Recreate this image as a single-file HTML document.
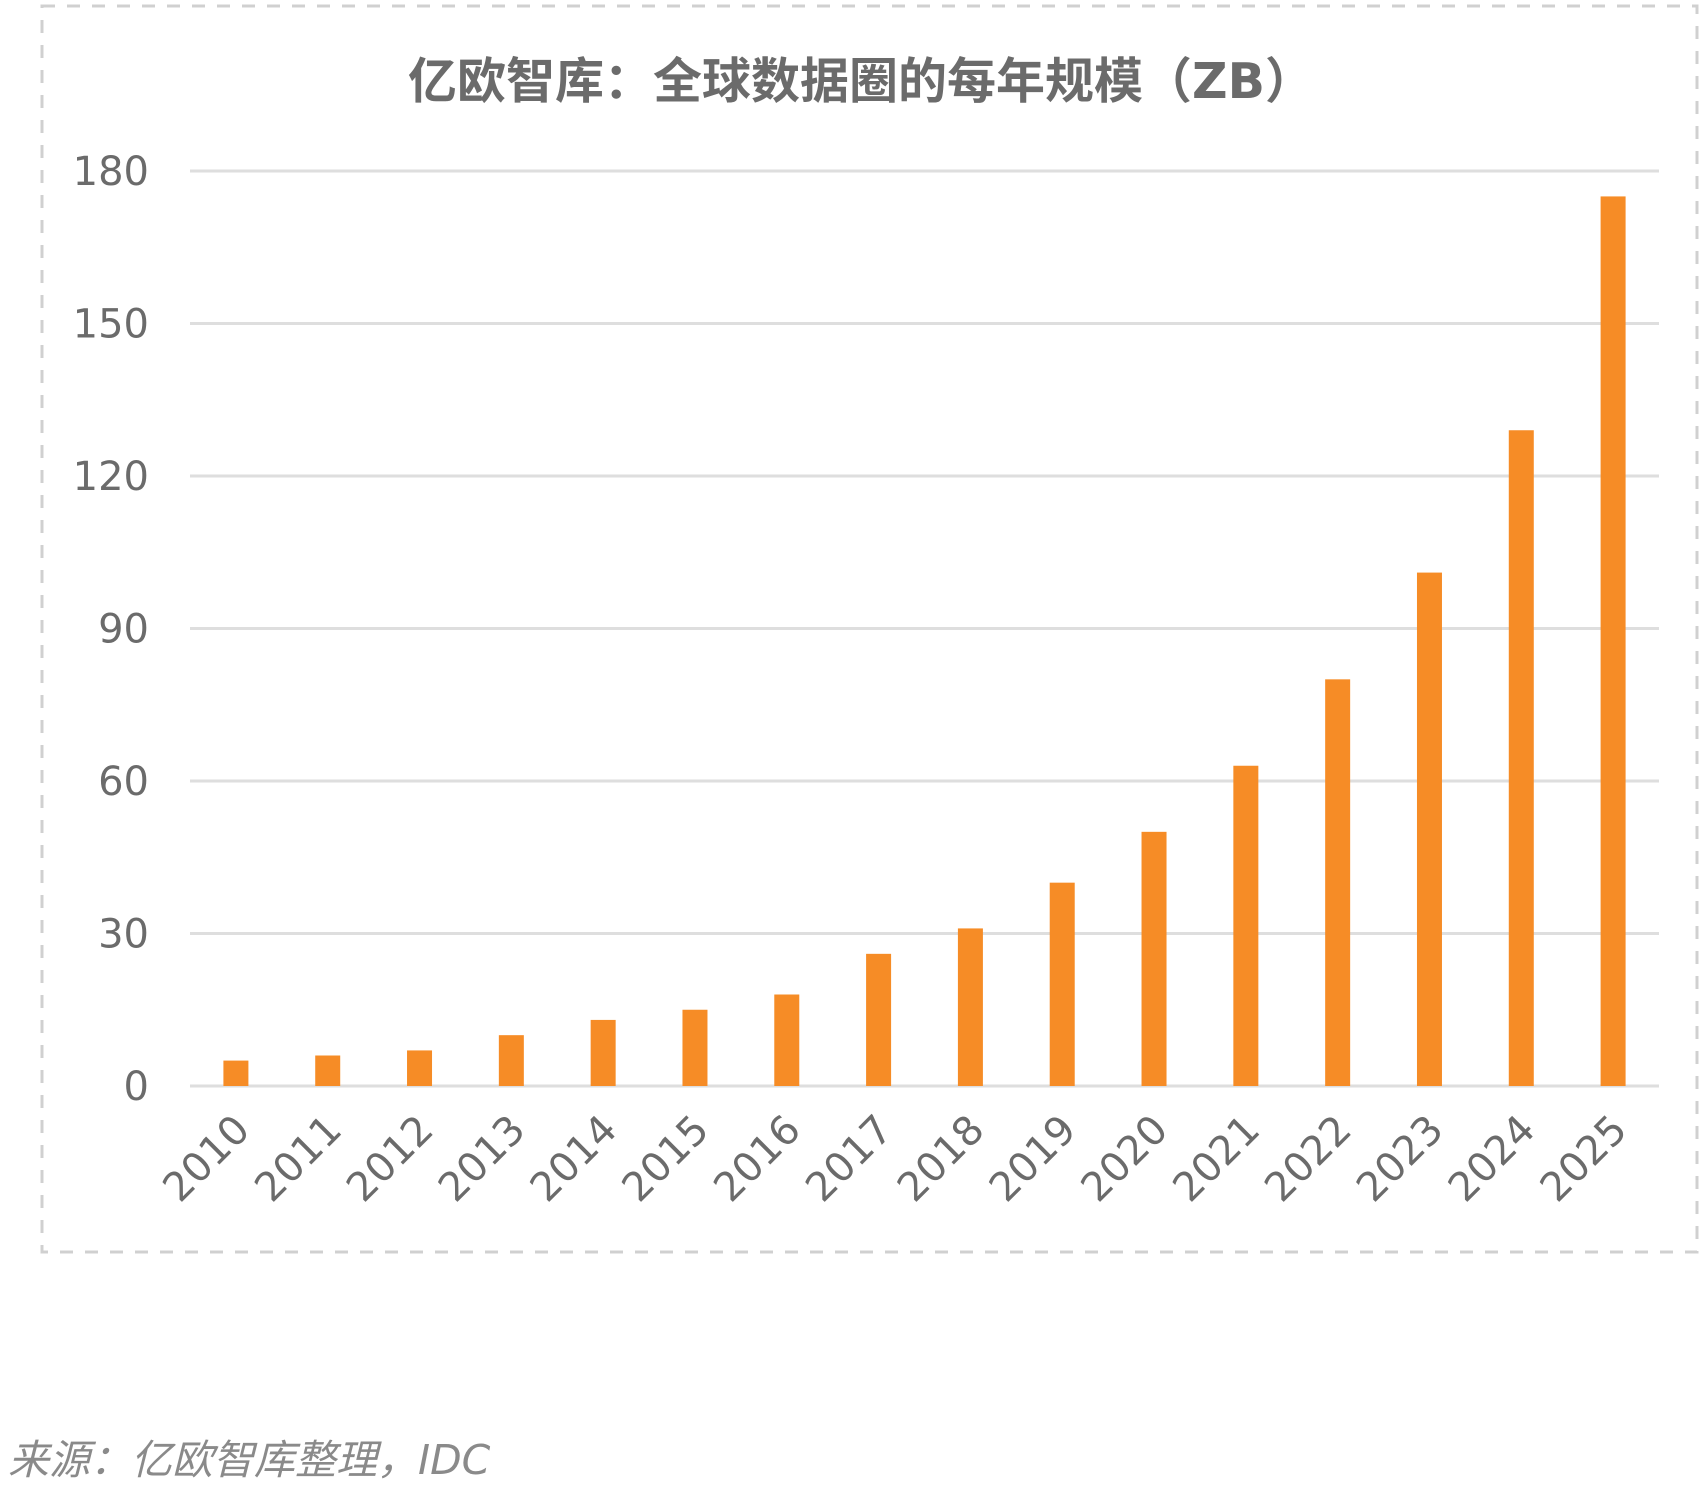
<!DOCTYPE html>
<html><head><meta charset="utf-8">
<style>
html,body{margin:0;padding:0;background:#fff;}
svg{display:block;}
</style></head>
<body>
<svg width="1708" height="1492" viewBox="0 0 1708 1492" xmlns="http://www.w3.org/2000/svg">
<rect x="42" y="6" width="1655" height="1246" fill="none" stroke="#d0d0d0" stroke-width="3" stroke-dasharray="13,12"/>
<text x="861" y="98" text-anchor="middle" font-family="'DejaVu Sans','Noto Sans CJK SC',sans-serif" font-weight="bold" font-size="49" fill="#6b6b6b">亿欧智库：全球数据圈的每年规模（ZB）</text>
<g id="grid"></g>
<g id="bars"></g>
<g id="xlabels"></g>
<text x="8" y="1474" font-family="'DejaVu Sans','Noto Sans CJK SC',sans-serif" font-style="italic" font-size="41" fill="#8a8a8a">来源：亿欧智库整理，IDC</text>
</svg>
<script>
const categories=["2010","2011","2012","2013","2014","2015","2016","2017","2018","2019","2020","2021","2022","2023","2024","2025"];
const values=[5,6,7,10,13,15,18,26,31,40,50,63,80,101,129,175];
const yTicks=[0,30,60,90,120,150,180];
const NS="http://www.w3.org/2000/svg";
const y0=1086,yTop=171,yMax=180,left=190,right=1659,gridLeft=190;
const y=v=>y0-(y0-yTop)*v/yMax;
const step=(right-left)/categories.length;
const x=i=>left+step*(i+0.5);
const grid=document.getElementById('grid'),bars=document.getElementById('bars'),xl=document.getElementById('xlabels');
yTicks.forEach(t=>{
 const l=document.createElementNS(NS,'line');
 l.setAttribute('x1',gridLeft);l.setAttribute('x2',right);l.setAttribute('y1',y(t));l.setAttribute('y2',y(t));
 l.setAttribute('stroke','#dedede');l.setAttribute('stroke-width','3');
 
 
 grid.appendChild(l);
 const tx=document.createElementNS(NS,'text');
 tx.setAttribute('x',149);tx.setAttribute('y',y(t)+14);tx.setAttribute('text-anchor','end');
 tx.setAttribute('font-family',"'DejaVu Sans',sans-serif");tx.setAttribute('font-size','40');tx.setAttribute('fill','#6b6b6b');
 tx.textContent=t;
 
 
 grid.appendChild(tx);
});
values.forEach((v,i)=>{
 const r=document.createElementNS(NS,'rect');
 const w=25;
 r.setAttribute('x',x(i)-w/2);r.setAttribute('y',y(v));r.setAttribute('width',w);r.setAttribute('height',y0-y(v));
 r.setAttribute('fill','#f68c26');
 
 
 bars.appendChild(r);
});
categories.forEach((c,i)=>{
 const tx=document.createElementNS(NS,'text');
 const cx=x(i)+16,cy=1132;
 tx.setAttribute('x',cx);tx.setAttribute('y',cy);tx.setAttribute('text-anchor','end');
 tx.setAttribute('transform','rotate(-45 '+cx+' '+cy+')');
 tx.setAttribute('font-family',"'DejaVu Sans',sans-serif");tx.setAttribute('font-size','40');tx.setAttribute('fill','#6b6b6b');
 tx.textContent=c;
 
 
 xl.appendChild(tx);
});
</script>
</body></html>
